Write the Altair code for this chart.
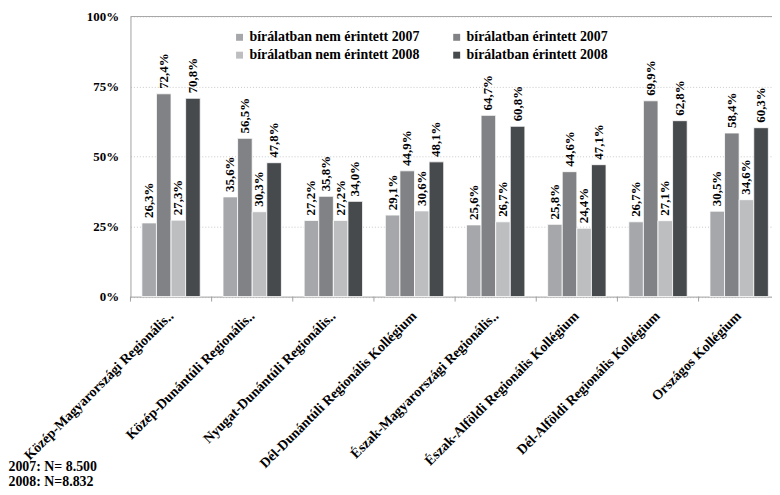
import altair as alt
import pandas as pd

categories = [
    "Közép-Magyarországi Regionális‥",
    "Közép-Dunántúli Regionális‥",
    "Nyugat-Dunántúli Regionális‥",
    "Dél-Dunántúli Regionális Kollégium",
    "Észak-Magyarországi Regionális‥",
    "Észak-Alföldi Regionális Kollégium",
    "Dél-Alföldi Regionális Kollégium",
    "Országos Kollégium",
]
series = [
    "bírálatban nem érintett 2007",
    "bírálatban érintett 2007",
    "bírálatban nem érintett 2008",
    "bírálatban érintett 2008",
]
nem_2007 = [26.3, 35.6, 27.2, 29.1, 25.6, 25.8, 26.7, 30.5]
erintett_2007 = [72.4, 56.5, 35.8, 44.9, 64.7, 44.6, 69.9, 58.4]
nem_2008 = [27.3, 30.3, 27.2, 30.6, 26.7, 24.4, 27.1, 34.6]
erintett_2008 = [70.8, 47.8, 34.0, 48.1, 60.8, 47.1, 62.8, 60.3]
colors = ["#a5a7aa", "#808285", "#bcbec0", "#474a4d"]
footnotes = ["2007: N= 8.500", "2008: N=8.832"]

rows = []
for s, vals in zip(series, [nem_2007, erintett_2007, nem_2008, erintett_2008]):
    for c, v in zip(categories, vals):
        rows.append({"cat": c, "series": s, "value": v})
df = pd.DataFrame(rows)

# legend is filled column by column, so order the colour domain accordingly
legend_order = [series[0], series[2], series[1], series[3]]
legend_colors = [colors[0], colors[2], colors[1], colors[3]]

FONT = "Liberation Serif"

x_enc = alt.X(
    "cat:N",
    sort=categories,
    scale=alt.Scale(range=[0, 654.8], paddingInner=0, paddingOuter=0),
    axis=alt.Axis(
        title=None,
        labelAngle=-45,
        labelAlign="right",
        labelBaseline="middle",
        labelFont=FONT,
        labelFontWeight="bold",
        labelFontSize=14,
        labelColor="black",
        labelLimit=400,
        ticks=False,
        labelPadding=17,
        domainColor="#a0a0a0",
        grid=False,
    ),
)
xo_enc = alt.XOffset(
    "series:N", sort=series, scale=alt.Scale(paddingOuter=0.78, paddingInner=0)
)
y_enc = alt.Y(
    "value:Q",
    scale=alt.Scale(domain=[0, 100]),
    axis=alt.Axis(
        title=None,
        values=[0, 25, 50, 75, 100],
        labelExpr="datum.value + '%'",
        labelFont=FONT,
        labelFontWeight="bold",
        labelFontSize=13,
        labelColor="black",
        labelPadding=12,
        ticks=False,
        domainColor="#a0a0a0",
        grid=True,
        gridColor="#c8c8c8",
        gridDash=[1, 2],
    ),
)

base = alt.Chart(df)

bars = base.mark_bar(stroke="white", strokeWidth=0.8).encode(
    x=x_enc,
    xOffset=xo_enc,
    y=y_enc,
    color=alt.Color(
        "series:N",
        scale=alt.Scale(domain=legend_order, range=legend_colors),
        legend=alt.Legend(
            title=None,
            orient="none",
            legendX=103,
            legendY=14,
            columns=2,
            columnPadding=30,
            rowPadding=4,
            symbolType="square",
            symbolSize=49,
            symbolStrokeWidth=0,
            labelFont=FONT,
            labelFontWeight="bold",
            labelFontSize=14,
            labelColor="black",
            labelLimit=400,
            labelOffset=3,
        ),
    ),
)

labels = base.mark_text(
    angle=270, align="left", baseline="middle", dx=5,
    font=FONT, fontWeight="bold", fontSize=13, color="black",
).transform_calculate(
    lbl="replace(format(datum.value, '.1f'), '.', ',') + '%'"
).encode(
    x=alt.X("cat:N", sort=categories),
    xOffset=alt.XOffset("series:N", sort=series),
    y=alt.Y("value:Q"),
    text="lbl:N",
)

ticks_df = pd.DataFrame({"cat": categories})
xticks = alt.Chart(ticks_df).mark_rule(color="#a0a0a0").encode(
    x=alt.X("cat:N", sort=categories, bandPosition=0),
    y=alt.value(282.5),
    y2=alt.value(287.5),
)

one_df = pd.DataFrame({"k": [0]})
top_line = alt.Chart(one_df).mark_rule(color="#a8a8a8", strokeWidth=1.2).encode(
    y=alt.datum(100),
    x=alt.value(0),
    x2=alt.value(660),
)

foot1 = alt.Chart(one_df).mark_text(
    align="left", baseline="middle", font=FONT, fontWeight="bold",
    fontSize=14, color="black",
).encode(text=alt.value(footnotes[0]), x=alt.value(-123), y=alt.value(454))
foot2 = alt.Chart(one_df).mark_text(
    align="left", baseline="middle", font=FONT, fontWeight="bold",
    fontSize=14, color="black",
).encode(text=alt.value(footnotes[1]), x=alt.value(-123), y=alt.value(469.5))

chart = (
    alt.layer(top_line, bars, labels, xticks, foot1, foot2)
    .properties(
        width=646,
        height=282.5,
        autosize=alt.AutoSizeParams(type="none"),
        padding={"left": 123.5, "top": 6.5, "right": 1, "bottom": 196},
    )
    .configure_view(stroke=None)
)

chart.save("out.html", embed_options={"renderer": "svg", "actions": False})
